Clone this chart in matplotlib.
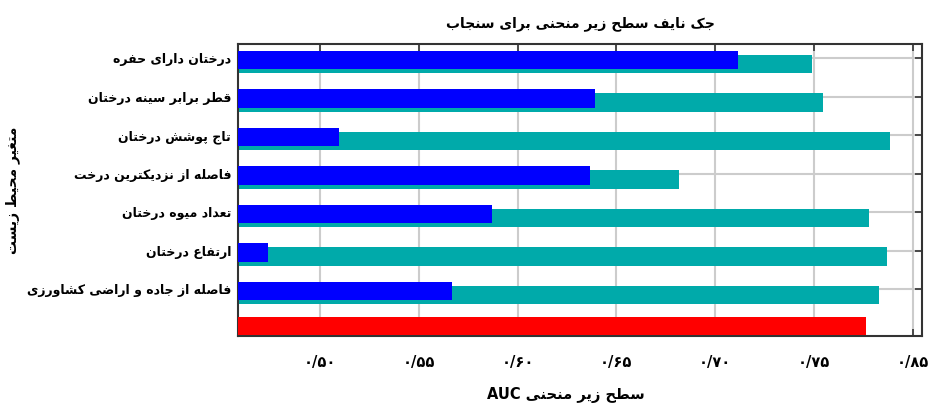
import matplotlib
matplotlib.use('Agg')
import matplotlib.pyplot as plt

# jackknife AUC values
variables = ['درختان دارای حفره', 'قطر برابر سینه درختان', 'تاج پوشش درختان',
             'فاصله از نزدیکترین درخت', 'تعداد میوه درختان', 'ارتفاع درختان',
             'فاصله از جاده و اراضی کشاورزی']
without_var = [0.749, 0.7546, 0.7885, 0.6815, 0.7778, 0.7871, 0.7831]
only_var = [0.7114, 0.6392, 0.5096, 0.6365, 0.5872, 0.4738, 0.5666]
all_vars = 0.7763

xticks = [0.50, 0.55, 0.60, 0.65, 0.70, 0.75, 0.80]
xtick_labels = ['۰/۵۰', '۰/۵۵', '۰/۶۰', '۰/۶۵', '۰/۷۰', '۰/۷۵', '۰/۸۵']
title = 'جک نایف سطح زیر منحنی برای سنجاب'
ylabel = 'متغیر محیط زیست'
xlabel = 'سطح زیر منحنی'

# matplotlib has no arabic shaping, so do it by hand with presentation forms
dual = {
    'ب': (0xFE8F, 0xFE90, 0xFE91, 0xFE92), 'پ': (0xFB56, 0xFB57, 0xFB58, 0xFB59),
    'ت': (0xFE95, 0xFE96, 0xFE97, 0xFE98), 'ث': (0xFE99, 0xFE9A, 0xFE9B, 0xFE9C),
    'ج': (0xFE9D, 0xFE9E, 0xFE9F, 0xFEA0), 'چ': (0xFB7A, 0xFB7B, 0xFB7C, 0xFB7D),
    'ح': (0xFEA1, 0xFEA2, 0xFEA3, 0xFEA4), 'خ': (0xFEA5, 0xFEA6, 0xFEA7, 0xFEA8),
    'س': (0xFEB1, 0xFEB2, 0xFEB3, 0xFEB4), 'ش': (0xFEB5, 0xFEB6, 0xFEB7, 0xFEB8),
    'ص': (0xFEB9, 0xFEBA, 0xFEBB, 0xFEBC), 'ض': (0xFEBD, 0xFEBE, 0xFEBF, 0xFEC0),
    'ط': (0xFEC1, 0xFEC2, 0xFEC3, 0xFEC4), 'ظ': (0xFEC5, 0xFEC6, 0xFEC7, 0xFEC8),
    'ع': (0xFEC9, 0xFECA, 0xFECB, 0xFECC), 'غ': (0xFECD, 0xFECE, 0xFECF, 0xFED0),
    'ف': (0xFED1, 0xFED2, 0xFED3, 0xFED4), 'ق': (0xFED5, 0xFED6, 0xFED7, 0xFED8),
    'ک': (0xFB8E, 0xFB8F, 0xFB90, 0xFB91), 'گ': (0xFB92, 0xFB93, 0xFB94, 0xFB95),
    'ل': (0xFEDD, 0xFEDE, 0xFEDF, 0xFEE0), 'م': (0xFEE1, 0xFEE2, 0xFEE3, 0xFEE4),
    'ن': (0xFEE5, 0xFEE6, 0xFEE7, 0xFEE8), 'ه': (0xFEE9, 0xFEEA, 0xFEEB, 0xFEEC),
    'ی': (0xFBFC, 0xFBFD, 0xFBFE, 0xFBFF),
}
right = {
    'ا': (0xFE8D, 0xFE8E), 'آ': (0xFE81, 0xFE82), 'د': (0xFEA9, 0xFEAA),
    'ذ': (0xFEAB, 0xFEAC), 'ر': (0xFEAD, 0xFEAE), 'ز': (0xFEAF, 0xFEB0),
    'ژ': (0xFB8A, 0xFB8B), 'و': (0xFEED, 0xFEEE),
}


def fa(text):
    out = []
    for i, ch in enumerate(text):
        prev = text[i - 1] if i > 0 else ''
        nxt = text[i + 1] if i + 1 < len(text) else ''
        join_prev = prev in dual and (ch in dual or ch in right)
        join_next = ch in dual and (nxt in dual or nxt in right)
        if ch in dual:
            iso, fin, ini, med = dual[ch]
            if join_prev and join_next:
                c = med
            elif join_prev:
                c = fin
            elif join_next:
                c = ini
            else:
                c = iso
        elif ch in right:
            iso, fin = right[ch]
            c = fin if join_prev else iso
        else:
            out.append(ch)
            continue
        out.append(chr(c))
    return ''.join(out)[::-1]


plt.rcParams['font.family'] = ['DejaVu Sans']
fig = plt.figure(figsize=(9.31, 4.08), dpi=100)
ax = fig.add_axes([0.2556, 0.1765, 0.7347, 0.7157])

xlo = 0.4585
rows = list(range(len(variables)))
ax.barh([r + 0.16 for r in rows], [v - xlo for v in without_var], left=xlo,
        height=0.48, color='#00aaaa', zorder=2)
ax.barh([r + 0.05 for r in rows], [v - xlo for v in only_var], left=xlo,
        height=0.48, color='#0000ff', zorder=3)
ax.barh([len(variables) - 0.04], [all_vars - xlo], left=xlo,
        height=0.47, color='#ff0000', zorder=3)

ax.set_xlim(xlo, 0.8046)
ax.set_ylim(7.22, -0.364)
ax.set_xticks(xticks)
ax.set_xticklabels(xtick_labels, fontsize=10.5, fontweight='bold')
ax.set_yticks(rows)
ax.set_yticklabels([fa(v) for v in variables], fontsize=9, fontweight='bold')
ax.tick_params(axis='both', direction='in', length=5, width=1.2,
               top=True, right=True, color='#333333')
ax.tick_params(axis='x', pad=14)
ax.tick_params(axis='y', pad=5)
ax.grid(True, color='#cccccc', linewidth=1.5, zorder=0)
ax.set_axisbelow(True)
for s in ax.spines.values():
    s.set_linewidth(1.5)
    s.set_color('#333333')

ax.set_title(fa(title), fontsize=10, fontweight='bold', pad=12)
ax.set_xlabel('AUC ' + fa(xlabel), fontsize=10.5, fontweight='bold')
ax.xaxis.set_label_coords(0.48, -0.175)
ax.set_ylabel(fa(ylabel), fontsize=10, fontweight='bold')
ax.yaxis.set_label_coords(-0.318, 0.5)

fig.savefig('out.png', dpi=100)
